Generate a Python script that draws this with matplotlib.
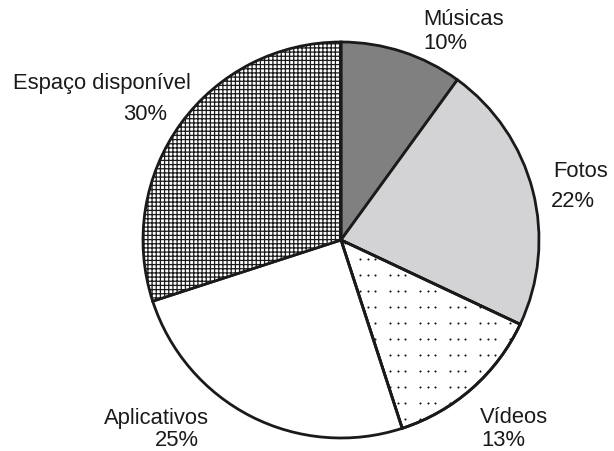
import numpy as np
import matplotlib
matplotlib.use("Agg")
import matplotlib.pyplot as plt
from matplotlib.patches import Wedge

# ── Data ──────────────────────────────────────────────────────────────────────
categories = ["Músicas", "Fotos", "Vídeos", "Aplicativos", "Espaço disponível"]
shares = [10, 22, 13, 25, 30]
face_colors = ["#808080", "#d3d3d5", "white", "white", "white"]
hatches = [None, None, None, None, "++++"]

plt.rcParams["font.family"] = ["Liberation Sans", "DejaVu Sans"]
plt.rcParams["hatch.linewidth"] = 0.9

W, H = 614, 452
CX, CY, R = 341, H - 241, 198

fig = plt.figure(figsize=(W / 100, H / 100), dpi=100)
ax = fig.add_axes([0, 0, 1, 1])

wedges, _ = ax.pie(shares, colors=face_colors, startangle=90, counterclock=False,
                   center=(CX, CY), radius=R, frame=True,
                   wedgeprops=dict(edgecolor="#1a1a1a", linewidth=2.0))
for w, h in zip(wedges, hatches):
    if h:
        w.set_hatch(h)

# dotted texture for "Vídeos": rows of dot triplets, clipped to the wedge
gx = np.concatenate([np.arange(0, W, 30) + k * 7.5 for k in range(3)])
gy = np.arange(0, H, 16)
XX, YY = np.meshgrid(gx, gy)
dots = ax.scatter(XX.ravel(), YY.ravel(), s=2.2, color="#111111", lw=0, zorder=3)
dots.set_clip_path(wedges[2])
ax.add_patch(Wedge((CX, CY), R, wedges[2].theta1, wedges[2].theta2,
                   fill=False, edgecolor="#1a1a1a", lw=2.0, zorder=4))

ax.set_xlim(0, W)
ax.set_ylim(0, H)
ax.set_aspect("equal")
ax.axis("off")

# labels: (text, left x, baseline y from top)
fs = 15.8
labels = [
    (categories[0], 423, 25), (f"{shares[0]}%", 423, 49),
    (categories[1], 553, 177), (f"{shares[1]}%", 551, 207),
    (categories[2], 480, 423), (f"{shares[2]}%", 481, 446),
    (categories[3], 104, 424), (f"{shares[3]}%", 155, 446),
    (categories[4], 13, 89), (f"{shares[4]}%", 123, 120),
]
for txt, x, y in labels:
    ax.text(x, H - y, txt, ha="left", va="baseline", fontsize=fs, color="#1a1a1a")

fig.savefig("out.png", dpi=100)
